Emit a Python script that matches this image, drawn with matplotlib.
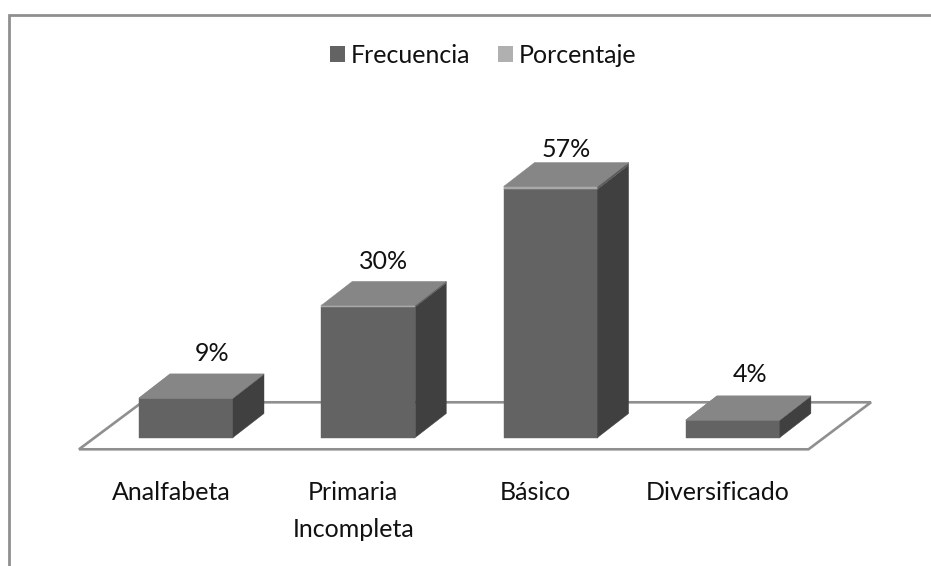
import matplotlib
matplotlib.use("Agg")
import matplotlib.pyplot as plt
from matplotlib.patches import Polygon, Rectangle
from matplotlib.lines import Line2D

categories = ["Analfabeta", "Primaria\nIncompleta", "Básico", "Diversificado"]
frecuencia = [9, 30, 57, 4]
porcentaje = [0.09, 0.30, 0.57, 0.04]
labels = ["9%", "30%", "57%", "4%"]

W, H = 931, 566
PX_X = 182.3
PX_Y = 4.36
X0, Y0 = 186.0, 437.5
BAR_W = 94 / PX_X
DX, DY = 31 / PX_X, 24 / PX_Y
FS = 18

# hand-placed label offsets from the bar's top-back edge, in pixels (dx, dy up)
label_nudge = [(26, 20), (15, 20), (16, 13), (17, 21)]

plt.rcParams["font.family"] = ["Lato", "DejaVu Sans"]
fig = plt.figure(figsize=(W / 100, H / 100), dpi=100)
ax = fig.add_axes([0, 0, 1, 1])
ax.set_xlim(-X0 / PX_X, (W - X0) / PX_X)
ax.set_ylim((Y0 - H) / PX_Y, Y0 / PX_Y)
ax.axis("off")

GREY = "#8f8f8f"
px = lambda a: (a - X0) / PX_X
py = lambda b: (Y0 - b) / PX_Y
# chart frame: left and top edges only
ax.add_line(Line2D([px(9), px(9), px(931)], [py(566), py(15), py(15)], color=GREY, lw=2, solid_joinstyle="miter"))

# floor of the 3D plot
floor = [(px(79), py(449.3)), (px(808.5), py(449.3)), (px(871), py(402.3)), (px(142), py(402.3))]
ax.add_patch(Polygon(floor, closed=True, fill=False, ec=GREY, lw=1.9, zorder=1))

FRONT, SIDE, TOP = "#636363", "#404040", "#868686"
LIGHT, LIGHT_SIDE = "#a9a9a9", "#5c5c5c"


def box(x, y0, y1, front, side, top, z):
    l, r = x - BAR_W / 2, x + BAR_W / 2
    ax.add_patch(Rectangle((l, y0), BAR_W, y1 - y0, fc=front, ec=front, lw=0.3, zorder=z))
    ax.add_patch(Polygon([(r, y0), (r + DX, y0 + DY), (r + DX, y1 + DY), (r, y1)], fc=side, ec=side, lw=0.3, zorder=z))
    ax.add_patch(Polygon([(l, y1), (r, y1), (r + DX, y1 + DY), (l + DX, y1 + DY)], fc=top, ec=top, lw=0.3, zorder=z))


for i, (f, p, lab) in enumerate(zip(frecuencia, porcentaje, labels)):
    box(i, 0, f, FRONT, SIDE, TOP, 3 + i)
    box(i, f, f + p, LIGHT, LIGHT_SIDE, TOP, 3 + i)
    nx, ny = label_nudge[i]
    ax.text(i + nx / PX_X, f + p + DY + ny / PX_Y, lab, ha="center", va="center", fontsize=FS, color="#111111", zorder=10)
    ax.text(i - 15 / PX_X, -10.0, categories[i], ha="center", va="top", fontsize=FS, color="#111111", linespacing=1.72, zorder=10)

handles = [Rectangle((0, 0), 1, 1, fc=FRONT), Rectangle((0, 0), 1, 1, fc="#b0b0b0")]
fig.legend(handles, ["Frecuencia", "Porcentaje"], loc="center", bbox_to_anchor=(483.5 / W, 1 - 55.5 / H),
           ncol=2, frameon=False, fontsize=FS, handlelength=0.6, handleheight=0.6,
           handletextpad=0.24, columnspacing=1.1, labelcolor="#111111")
fig.savefig("out.png", dpi=100, facecolor="white")
